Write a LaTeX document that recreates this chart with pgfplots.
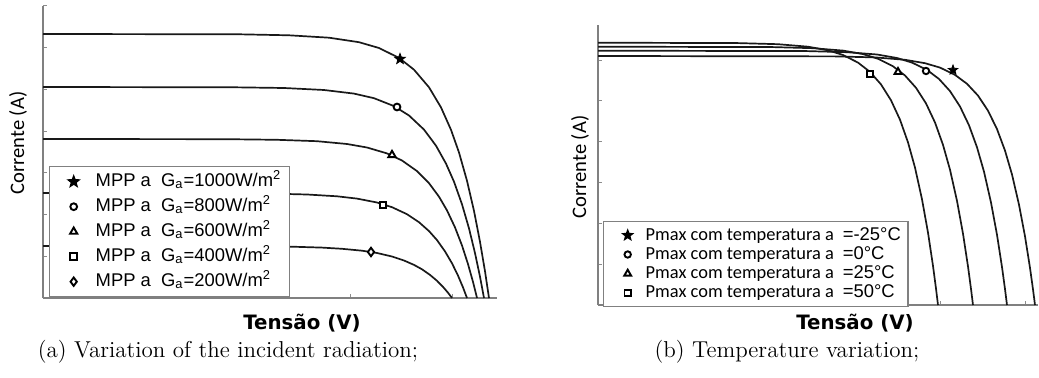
\documentclass[border=0pt]{standalone}
\usepackage{pgfplots}
\pgfplotsset{compat=1.18}
\usepackage{fontspec}
\newfontfamily\arialf{Liberation Sans}
\newfontfamily\carl{Carlito}
\newfontfamily\dejav{DejaVu Sans}
\usetikzlibrary{plotmarks}

\pgfdeclareplotmark{fstar}{%
  \pgfpathmoveto{\pgfpointpolar{90}{\pgfplotmarksize}}%
  \pgfpathlineto{\pgfpointpolar{126}{0.42\pgfplotmarksize}}%
  \pgfpathlineto{\pgfpointpolar{162}{\pgfplotmarksize}}%
  \pgfpathlineto{\pgfpointpolar{198}{0.42\pgfplotmarksize}}%
  \pgfpathlineto{\pgfpointpolar{234}{\pgfplotmarksize}}%
  \pgfpathlineto{\pgfpointpolar{270}{0.42\pgfplotmarksize}}%
  \pgfpathlineto{\pgfpointpolar{306}{\pgfplotmarksize}}%
  \pgfpathlineto{\pgfpointpolar{342}{0.42\pgfplotmarksize}}%
  \pgfpathlineto{\pgfpointpolar{18}{\pgfplotmarksize}}%
  \pgfpathlineto{\pgfpointpolar{54}{0.42\pgfplotmarksize}}%
  \pgfpathclose\pgfusepathqfillstroke}

\pgfplotsset{
  myax/.style={anchor=origin, x=0.5pt, y=0.5pt,
    axis lines*=left,
    axis line style={draw=black!50, line width=0.7pt, -},
    tick align=inside, major tick length=2pt,
    tick style={draw=black!45, line width=0.5pt},
    xticklabels={}, yticklabels={},
    enlargelimits=false, clip=false,
    legend cell align=left,
    legend image code/.code={\path[draw=none,fill=none] (-9pt,-2pt) rectangle (3pt,2pt); \draw[#1] plot coordinates {(0pt,0pt)};}},
  curve/.style={black!90, line width=0.85pt, no markers, forget plot},
  mpp/.style={only marks, black, mark options={solid, line width=0.95pt, fill=white}},
}

\begin{document}
\begin{tikzpicture}
\useasboundingbox (0,0) rectangle (519.5pt,-189pt);

% ---------- Left panel ----------
\begin{axis}[myax, at={(21.5pt,-149pt)},
  xmin=0, xmax=454, ymin=0, ymax=292,
  xtick={102.3,204.7,307,409.3},
  ytick={41.7,83.4,125.1,166.8,208.5,250.2,292},
  legend style={at={(axis cs:6,132)}, anchor=north west, draw=black!50, line width=0.7pt,
    fill=white, inner xsep=3pt, inner ysep=2pt, row sep=1.5pt, column sep=7pt,
    font=\fontsize{9.2}{11}\arialf,
    nodes={inner sep=1pt, text height=7pt, text depth=2pt}},
]
\addplot[curve] coordinates {(0,264)(196,263.7)(246,262.7)(286,260.3)(316,255.8)(336,250.0)(356,240.1)(371,228.3)(386,210.7)(398,190.6)(408,168.2)(416,145.5)(424,117.2)(431,87.1)(437,56.2)(442,26.7)(446,0)};
\addplot[curve] coordinates {(0,211)(191,210.7)(241,210.0)(281,208.0)(311,204.4)(331,199.8)(351,191.9)(366,182.5)(381,168.4)(393,152.3)(403,134.4)(411,116.3)(419,93.7)(426,69.6)(432,44.9)(437,21.3)(441,0)};
\addplot[curve] coordinates {(0,159)(184,158.8)(234,158.2)(274,156.8)(304,154.0)(324,150.5)(344,144.6)(359,137.5)(374,126.9)(386,114.8)(396,101.3)(404,87.6)(412,70.6)(419,52.5)(425,33.9)(430,16.1)(434,0)};
\addplot[curve] coordinates {(0,105)(174,104.9)(224,104.5)(264,103.5)(294,101.7)(314,99.4)(334,95.5)(349,90.8)(364,83.8)(376,75.8)(386,66.9)(394,57.9)(402,46.6)(409,34.7)(415,22.4)(420,10.6)(424,0)};
\addplot[curve] coordinates {(0,52)(159,51.9)(209,51.75)(249,51.3)(279,50.4)(299,49.2)(319,47.3)(334,45.0)(349,41.5)(361,37.5)(371,33.1)(379,28.7)(387,23.1)(394,17.2)(400,11.1)(405,5.3)(409,0)};
\addplot[mpp, mark=fstar, mark size=2.8pt, mark options={fill=black}] coordinates {(357,239)};
\addlegendentry{MPP a\ \ G\textsubscript{a}=1000W/m\textsuperscript{2}}
\addplot[mpp, mark=*, mark size=1.7pt] coordinates {(354,191)};
\addlegendentry{MPP a\ \ G\textsubscript{a}=800W/m\textsuperscript{2}}
\addplot[mpp, mark=triangle*, mark size=2.1pt] coordinates {(349,143)};
\addlegendentry{MPP a\ \ G\textsubscript{a}=600W/m\textsuperscript{2}}
\addplot[mpp, mark=square*, mark size=1.7pt] coordinates {(340,93)};
\addlegendentry{MPP a\ \ G\textsubscript{a}=400W/m\textsuperscript{2}}
\addplot[mpp, mark=diamond*, mark size=2.1pt] coordinates {(328,46)};
\addlegendentry{MPP a\ \ G\textsubscript{a}=200W/m\textsuperscript{2}}
\end{axis}

% ---------- Right panel ----------
\begin{axis}[myax, at={(299pt,-152.5pt)},
  xmin=0, xmax=440, ymin=0, ymax=280,
  xtick={85.5,171,256.5,342,427.5},
  ytick={40.8,81.6,122.4,163.2,204,244.8},
  legend style={at={(axis cs:5,84)}, anchor=north west, draw=black!50, line width=0.7pt,
    fill=white, inner xsep=3pt, inner ysep=2pt, row sep=0pt, column sep=5.5pt,
    font=\fontsize{9.2}{10}\carl,
    nodes={inner sep=0.5pt, text height=6.8pt, text depth=1.8pt}},
]
\addplot[curve] coordinates {(0,262.3)(140,261.9)(180,260.8)(210,258.3)(230,254.7)(245,250.0)(260,242.4)(272,233.1)(283,220.6)(293,204.7)(302,185.3)(310,162.6)(317,137.4)(324,105.7)(330,72.4)(335,39.1)(338,16.4)(340,0)};
\addplot[curve] coordinates {(0,258.3)(175,257.9)(215,256.8)(245,254.4)(265,250.9)(280,246.2)(295,238.7)(307,229.5)(318,217.2)(328,201.6)(337,182.5)(345,160.1)(352,135.3)(359,104.1)(365,71.3)(370,38.5)(373,16.1)(375,0)};
\addplot[curve] coordinates {(0,254.3)(209,253.9)(249,252.8)(279,250.5)(299,247.0)(314,242.4)(329,235.1)(341,226.0)(352,213.9)(362,198.5)(371,179.7)(379,157.7)(386,133.3)(393,102.5)(399,70.2)(404,37.9)(407,15.9)(409,0)};
\addplot[curve] coordinates {(0,249)(237,248.6)(277,247.6)(307,245.2)(327,241.8)(342,237.4)(357,230.1)(369,221.2)(380,209.4)(390,194.3)(399,175.9)(407,154.4)(414,130.5)(421,100.3)(427,68.7)(432,37.1)(435,15.6)(437,0)};
\addplot[mpp, mark=fstar, mark size=2.5pt, mark options={fill=black}] coordinates {(355,235)};
\addlegendentry{Pmax com temperatura a\hspace{4.5pt}{\arialf =-25°C}}
\addplot[mpp, mark=*, mark size=1.6pt] coordinates {(328,234)};
\addlegendentry{Pmax com temperatura a\hspace{4.5pt}{\arialf =0°C}}
\addplot[mpp, mark=triangle*, mark size=2pt] coordinates {(300,233)};
\addlegendentry{Pmax com temperatura a\hspace{4.5pt}{\arialf =25°C}}
\addplot[mpp, mark=square*, mark size=1.6pt] coordinates {(272,231)};
\addlegendentry{Pmax com temperatura a\hspace{4.5pt}{\arialf =50°C}}
\end{axis}

% ---------- Labels and captions ----------
\node[rotate=90, font=\fontsize{10.3}{12}\carl] at (9pt,-71.5pt) {Corrente (A)};
\node[rotate=90, font=\fontsize{10.3}{12}\carl] at (290pt,-83.5pt) {Corrente (A)};
\node[font=\fontsize{9.9}{12}\dejav\bfseries] at (151pt,-161.5pt) {Tensão (V)};
\node[font=\fontsize{9.9}{12}\dejav\bfseries] at (427.5pt,-161.5pt) {Tensão (V)};
\node[font=\fontsize{11.5}{14}\selectfont] at (114pt,-176pt) {(a) Variation of the incident radiation;};
\node[font=\fontsize{11.5}{14}\selectfont] at (393.5pt,-176pt) {(b) Temperature variation;};
\end{tikzpicture}
\end{document}
